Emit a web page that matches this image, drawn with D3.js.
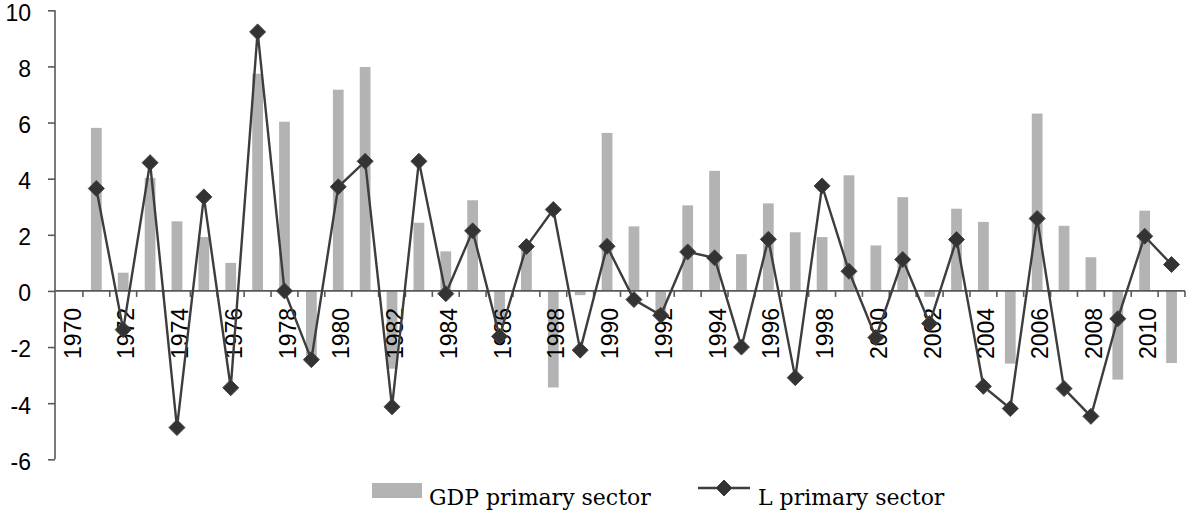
<!DOCTYPE html>
<html>
<head>
<meta charset="utf-8">
<script src="https://cdn.jsdelivr.net/npm/d3@7"></script>
<style>
  html, body { margin: 0; padding: 0; background: #ffffff; }
  svg { display: block; }
</style>
</head>
<body>
<svg id="chart" width="1188" height="513"></svg>
<script>
// ---- data ----
const years = [1970,1971,1972,1973,1974,1975,1976,1977,1978,1979,1980,1981,1982,1983,1984,1985,1986,1987,1988,1989,1990,
               1991,1992,1993,1994,1995,1996,1997,1998,1999,2000,2001,2002,2003,2004,2005,2006,2007,2008,2009,2010,2011];
const gdpPrimary = [null,5.81,0.65,4.03,2.48,1.92,1.0,7.74,6.03,-2.4,7.17,7.98,-2.77,2.43,1.41,3.23,-1.2,1.5,-3.44,-0.15,5.63,
                    2.30,-0.8,3.05,4.28,1.31,3.12,2.09,1.92,4.12,1.62,3.34,-0.21,2.93,2.46,-2.59,6.32,2.32,1.20,-3.16,2.86,-2.57];
const lPrimary = [null,3.65,-1.38,4.57,-4.87,3.35,-3.45,9.23,0.0,-2.45,3.71,4.62,-4.13,4.62,-0.1,2.14,-1.62,1.58,2.90,-2.11,1.59,
                  -0.31,-0.87,1.39,1.18,-2.0,1.84,-3.09,3.74,0.70,-1.66,1.12,-1.16,1.83,-3.40,-4.19,2.58,-3.48,-4.47,-0.99,1.95,0.94];
const yTicks = [-6,-4,-2,0,2,4,6,8,10];
const seriesNames = ["GDP primary sector", "L primary sector"];

// ---- layout ----
const svg = d3.select("#chart");
const plotLeft = 56, plotRight = 1185, plotTop = 10.3, plotBottom = 459.3;
const axisColor = "#595959";
const barColor = "#b3b3b3";
const lineColor = "#3d3d3d";
const labelFont = "'Liberation Sans', Arial, sans-serif";
const labelSize = 23;

const x = d3.scaleBand().domain(years).range([plotLeft, plotRight]).paddingInner(0).paddingOuter(0);
const y = d3.scaleLinear().domain([-6, 10]).range([plotBottom, plotTop]);
const bw = x.bandwidth();

// bars
svg.append("g").selectAll("rect")
  .data(years.map((yr, i) => ({yr, v: gdpPrimary[i]})).filter(d => d.v !== null))
  .join("rect")
  .attr("x", d => x(d.yr) + bw * 0.3)
  .attr("width", bw * 0.4)
  .attr("y", d => y(Math.max(0, d.v)))
  .attr("height", d => Math.abs(y(d.v) - y(0)))
  .attr("fill", barColor);

// y axis
const yAxis = svg.append("g").attr("transform", `translate(${plotLeft - 1},0)`)
  .call(d3.axisLeft(y).tickValues(yTicks).tickSize(7).tickPadding(17).tickFormat(d => String(d)));
yAxis.select(".domain").attr("stroke", axisColor).attr("stroke-width", 1.6)
  .attr("d", `M0,${plotTop}V${plotBottom}`);
yAxis.selectAll(".tick line").attr("stroke", axisColor).attr("stroke-width", 1.6);
yAxis.selectAll(".tick text").attr("font-family", labelFont).attr("font-size", labelSize).attr("fill", "#000")
  .attr("dy", "0.43em");

// x axis at zero
const xAxisG = svg.append("g").attr("transform", `translate(0,${y(0)})`);
xAxisG.append("line").attr("x1", plotLeft - 1).attr("x2", plotRight).attr("y1", 0).attr("y2", 0)
  .attr("stroke", axisColor).attr("stroke-width", 1.8);
const boundaries = years.map(yr => x(yr) + bw);
xAxisG.selectAll("line.tk").data(boundaries).join("line").attr("class", "tk")
  .attr("x1", d => d).attr("x2", d => d).attr("y1", 0).attr("y2", 6)
  .attr("stroke", axisColor).attr("stroke-width", 1.6);
xAxisG.selectAll("text").data(years.filter((yr, i) => i % 2 === 0)).join("text")
  .attr("transform", d => `translate(${x(d) + bw / 2 + 3},17) rotate(-90)`)
  .attr("text-anchor", "end")
  .attr("dy", "0.35em")
  .attr("font-family", labelFont).attr("font-size", labelSize).attr("fill", "#000")
  .text(d => d);

// line
const pts = years.map((yr, i) => ({yr, v: lPrimary[i]})).filter(d => d.v !== null);
const line = d3.line().x(d => x(d.yr) + bw / 2).y(d => y(d.v));
svg.append("path").datum(pts).attr("d", line)
  .attr("fill", "none").attr("stroke", lineColor).attr("stroke-width", 2.4).attr("stroke-linejoin", "round");

const diamond = "M0,-8L8,0L0,8L-8,0Z";
svg.append("g").selectAll("path").data(pts).join("path")
  .attr("d", diamond)
  .attr("transform", d => `translate(${x(d.yr) + bw / 2},${y(d.v)})`)
  .attr("fill", "#333333").attr("stroke", "#444").attr("stroke-width", 1);

// legend
const leg = svg.append("g");
leg.append("rect").attr("x", 372).attr("y", 483).attr("width", 50).attr("height", 15).attr("fill", barColor);
leg.append("text").attr("x", 429).attr("y", 505).attr("font-family", "'DejaVu Serif', serif").attr("font-size", 22)
  .attr("fill", "#000").text(seriesNames[0]);
leg.append("line").attr("x1", 698).attr("x2", 750).attr("y1", 488).attr("y2", 488)
  .attr("stroke", lineColor).attr("stroke-width", 2.4);
leg.append("path").attr("d", diamond).attr("transform", "translate(724,488)")
  .attr("fill", "#333333").attr("stroke", "#444").attr("stroke-width", 1);
leg.append("text").attr("x", 758).attr("y", 505).attr("font-family", "'DejaVu Serif', serif").attr("font-size", 22)
  .attr("fill", "#000").text(seriesNames[1]);
</script>
</body>
</html>
